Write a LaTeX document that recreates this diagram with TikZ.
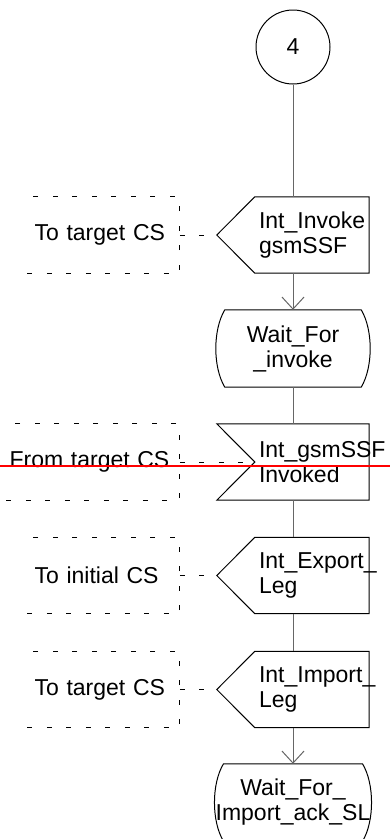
\documentclass[tikz,border=0pt]{standalone}
\usepackage{fontspec}
\setmainfont{Liberation Sans}
\usetikzlibrary{arrows.meta,positioning,calc}
\hyphenpenalty=10000

\begin{document}
\begin{tikzpicture}[
  x=1pt, y=1pt,
  every node/.style={font=\fontsize{23}{25}\selectfont},
  flow/.style={draw=black!60, line width=1pt},
  tip/.style={-{Straight Barb[length=12pt, width=22pt]}},
  outline/.style={draw=black, line width=1pt},
  dashline/.style={draw=black, line width=1pt, dash pattern=on 5pt off 14.5pt},
  conn/.style={circle, draw, line width=1pt, minimum size=74pt, inner sep=0pt},
  body/.style={minimum width=114pt, minimum height=76pt, text width=106pt,
               inner xsep=4pt, inner ysep=0pt, align=left},
  state/.style={minimum width=152pt, minimum height=77pt, inner sep=0pt, align=center},
  cmt/.style={minimum height=76pt, inner ysep=0pt, align=left}
]
\useasboundingbox (0,0) rectangle (390,-839);

\node[conn] (c4) at (293,-47) {4};
\node[body] (inv) at (312,-235) {Int\_Invoke\\gsmSSF};
\node[state] (wfi) at (293,-348.5) {Wait\_For\\\_invoke};
\node[body] (gsm) at (312,-462) {Int\_gsmSSF\\Invoked};
\node[body] (exp) at (312,-575.5) {Int\_Export\_\\Leg};
\node[body] (imp) at (312,-689.5) {Int\_Import\_\\Leg};
\node[state] (wfa) at (293,-802.5) {Wait\_For\_\\Import\_ack\_SL};

\node[cmt, text width=138pt, inner xsep=7pt, left=75pt of inv] (toinv) {To target CS};
\node[cmt, text width=167pt, inner xsep=3pt, left=75pt of gsm] (fromgsm) {From target CS};
\node[cmt, text width=138pt, inner xsep=7pt, left=75pt of exp] (toexp) {To initial CS};
\node[cmt, text width=138pt, inner xsep=7pt, left=75pt of imp] (toimp) {To target CS};

\draw[outline] (inv.north west) -- (inv.north east) -- (inv.south east) -- (inv.south west) -- ([xshift=-38pt]inv.west) -- cycle;
\draw[outline] (exp.north west) -- (exp.north east) -- (exp.south east) -- (exp.south west) -- ([xshift=-38pt]exp.west) -- cycle;
\draw[outline] (imp.north west) -- (imp.north east) -- (imp.south east) -- (imp.south west) -- ([xshift=-38pt]imp.west) -- cycle;
\draw[outline] ([xshift=-38pt]gsm.north west) -- (gsm.north east) -- (gsm.south east) -- ([xshift=-38pt]gsm.south west) -- (gsm.west) -- cycle;

\draw[outline] ([xshift=8pt]wfi.north west) -- ([xshift=-8pt]wfi.north east)
  .. controls ($(wfi.north east)+(4,-20)$) and ($(wfi.south east)+(4,20)$) .. ([xshift=-8pt]wfi.south east)
  -- ([xshift=8pt]wfi.south west)
  .. controls ($(wfi.south west)+(-4,20)$) and ($(wfi.north west)+(-4,-20)$) .. ([xshift=8pt]wfi.north west) -- cycle;
\draw[outline] ([xshift=8pt]wfa.north west) -- ([xshift=-8pt]wfa.north east)
  .. controls ($(wfa.north east)+(4,-20)$) and ($(wfa.south east)+(4,20)$) .. ([xshift=-8pt]wfa.south east)
  -- ([xshift=8pt]wfa.south west)
  .. controls ($(wfa.south west)+(-4,20)$) and ($(wfa.north west)+(-4,-20)$) .. ([xshift=8pt]wfa.north west) -- cycle;

\draw[dashline] (toinv.south west) -- (toinv.south east) -- (toinv.north east) -- (toinv.north west);
\draw[dashline] (fromgsm.south west) -- (fromgsm.south east) -- (fromgsm.north east) -- (fromgsm.north west);
\draw[dashline] (toexp.south west) -- (toexp.south east) -- (toexp.north east) -- (toexp.north west);
\draw[dashline] (toimp.south west) -- (toimp.south east) -- (toimp.north east) -- (toimp.north west);

\draw[dashline] (toinv.east) -- ([xshift=-38pt]inv.west);
\draw[dashline] (fromgsm.east) -- (gsm.west);
\draw[dashline] (toexp.east) -- ([xshift=-38pt]exp.west);
\draw[dashline] (toimp.east) -- ([xshift=-38pt]imp.west);

\draw[flow] (c4.south) -- (c4 |- inv.north);
\draw[flow, tip] (c4 |- inv.south) -- (wfi.north);
\draw[flow] (wfi.south) -- (wfi |- gsm.north);
\draw[flow] (wfi |- gsm.south) -- (wfi |- exp.north);
\draw[flow] (wfi |- exp.south) -- (wfi |- imp.north);
\draw[flow, tip] (wfi |- imp.south) -- (wfa.north);

\coordinate (redL) at (0,-466);
\coordinate (redR) at (390,-466);
\draw[red, line width=1.5pt] (redL) -- (redR);
\end{tikzpicture}
\end{document}
